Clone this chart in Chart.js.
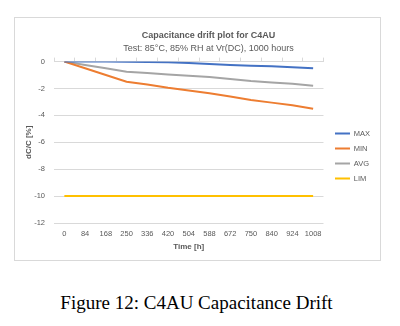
<!DOCTYPE html>
<html>
<head>
<meta charset="utf-8">
<script src="https://cdn.jsdelivr.net/npm/chart.js@4/dist/chart.umd.min.js"></script>
<style>
  html, body { margin: 0; padding: 0; background: #ffffff; width: 400px; height: 326px; overflow: hidden; }
  #box { position: absolute; left: 14px; top: 17px; width: 365px; height: 242px; border: 1px solid #d9d9d9; }
  #caption { position: absolute; left: 0; top: 292px; width: 393px; text-align: center; line-height: 22px;
             font-family: "Liberation Serif", "Times New Roman", serif; font-size: 19px; color: #000; }
</style>
</head>
<body>
<div id="box"><canvas id="c"></canvas></div>
<div id="caption">Figure 12: C4AU Capacitance Drift</div>
<script>
const categories = ["0","84","168","250","336","420","504","588","672","750","840","924","1008"];
const maxValues = [0, 0, 0, -0.02, -0.03, -0.05, -0.1, -0.18, -0.25, -0.3, -0.35, -0.42, -0.5];
const minValues = [0, -0.5, -1.0, -1.5, -1.7, -1.95, -2.15, -2.35, -2.6, -2.85, -3.05, -3.25, -3.5];
const avgValues = [0, -0.25, -0.5, -0.75, -0.85, -0.95, -1.05, -1.15, -1.3, -1.45, -1.55, -1.65, -1.8];
const limValues = [-10, -10, -10, -10, -10, -10, -10, -10, -10, -10, -10, -10, -10];
const yTicks = [0, -2, -4, -6, -8, -10, -12];
const titleText = 'Capacitance drift plot for C4AU';
const subtitleText = 'Test: 85°C, 85% RH at Vr(DC), 1000 hours';

const FONT = "'Liberation Sans', Arial, sans-serif";
const GREY = "#595959";

function ds(label, data, color) {
  return { label, data, borderColor: color, backgroundColor: color, borderWidth: 2,
           pointRadius: 0, tension: 0, fill: false, xAxisID: 'x', yAxisID: 'y' };
}

// shift the title/subtitle blocks to the right, as in the reference
const titleShift = {
  id: 'titleShift',
  afterLayout(chart) {
    const dx = 11;
    chart.boxes.forEach(b => {
      if (b.options && (b.options.text === titleText || b.options.text === subtitleText)) {
        b.left += dx; b.right += dx;
      }
    });
  }
};

new Chart(document.getElementById('c'), {
  type: 'line',
  data: {
    labels: categories,
    datasets: [
      ds('MAX', maxValues, '#4472C4'),
      ds('MIN', minValues, '#ED7D31'),
      ds('AVG', avgValues, '#A5A5A5'),
      ds('LIM', limValues, '#FFC000')
    ]
  },
  plugins: [titleShift],
  options: {
    responsive: true,
    maintainAspectRatio: false,
    animation: false,
    layout: { padding: { left: 0, right: 0, top: 0, bottom: 8 } },
    plugins: {
      title: { display: true, text: titleText, color: GREY,
               font: { family: FONT, size: 9, weight: 'bold' }, padding: { top: 12, bottom: 2 } },
      subtitle: { display: true, text: subtitleText, color: GREY,
               font: { family: FONT, size: 9 }, padding: { top: 0, bottom: 4 } },
      legend: { position: 'right',
                title: { display: true, text: ' ', font: { family: FONT, size: 7.5 }, padding: { top: 33, bottom: 0 } },
                labels: { usePointStyle: true, pointStyle: 'line', pointStyleWidth: 15, padding: 7.5,
                          color: GREY, font: { family: FONT, size: 7.5 } } },
      tooltip: { enabled: false }
    },
    scales: {
      x: {
        type: 'category', offset: true, position: 'bottom',
        afterFit: (axis) => { axis.height = 29; },
        grid: { display: false, drawTicks: false },
        border: { display: false },
        ticks: { color: GREY, font: { family: FONT, size: 7.5 }, maxRotation: 0, autoSkip: false, padding: 6.5 },
        title: { display: true, text: 'Time [h]', color: GREY, font: { family: FONT, size: 8, weight: 'bold' }, padding: { top: 0, bottom: 0 } }
      },
      xTop: {
        type: 'category', offset: true, position: 'top',
        grid: { display: true, offset: true, drawOnChartArea: false, drawTicks: true, tickLength: 4, color: '#d9d9d9' },
        border: { display: false },
        ticks: { display: false }
      },
      y: {
        min: -12, max: 0, position: 'left',
        afterBuildTicks: (axis) => { axis.ticks = yTicks.map(v => ({ value: v })); },
        afterFit: (axis) => { axis.width = 39; },
        grid: { color: '#d9d9d9', drawTicks: false, lineWidth: 1 },
        border: { display: false },
        ticks: { color: GREY, font: { family: FONT, size: 7.5 }, padding: 9 },
        title: { display: true, text: 'dC/C [%]', color: GREY, font: { family: FONT, size: 8, weight: 'bold' }, padding: { top: 9, bottom: 0 } }
      },
      ySpacer: {
        type: 'linear', position: 'right', display: true,
        afterFit: (axis) => { axis.width = 4; },
        grid: { display: false, drawTicks: false },
        border: { display: false },
        ticks: { display: false }
      }
    }
  }
});
</script>
</body>
</html>
